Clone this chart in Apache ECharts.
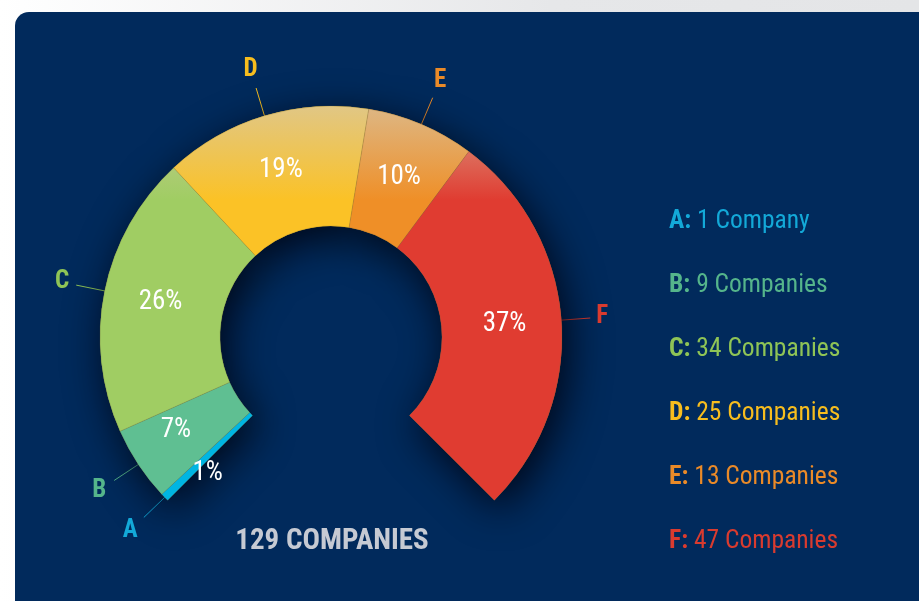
<!DOCTYPE html>
<html>
<head>
<meta charset="utf-8">
<script src="https://cdn.jsdelivr.net/npm/echarts@6/dist/echarts.min.js"></script>
<style>
  html, body { margin: 0; padding: 0; width: 919px; height: 601px; overflow: hidden;
    background: linear-gradient(90deg, #ffffff 0%, #e6e7e9 60%, #e4e5e7 100%); }
  #card { position: absolute; left: 15px; top: 12px; width: 940px; height: 620px;
    border-radius: 14px; background: #012a5c; }
  #chart { position: absolute; left: 0; top: 0; width: 919px; height: 601px; }
</style>
</head>
<body>
<div id="card"></div>
<div id="chart"></div>
<script>
"use strict";
// data
var names = ['A', 'B', 'C', 'D', 'E', 'F'];
var counts = [1, 9, 34, 25, 13, 47];
var pctLabels = ['1%', '7%', '26%', '19%', '10%', '37%'];
var totalLabel = '129 COMPANIES';

var colors = ['#00b5e2', '#5fbf92', '#a0cd63', '#fbc226', '#ef8f27', '#e03c31'];
var textColors = ['#13a9d8', '#55b58b', '#8fc456', '#f7bd1e', '#ea8a28', '#d93b2f'];
var font = '"Roboto Condensed", "Liberation Sans Narrow", Roboto, "Liberation Sans", sans-serif';

// 顶部的高光渐变
function mix(hex, t) {
	var r = parseInt(hex.substr(1, 2), 16), g = parseInt(hex.substr(3, 2), 16), b = parseInt(hex.substr(5, 2), 16);
	var base = [214, 200, 172];
	return 'rgb(' + Math.round(r + (base[0] - r) * t) + ',' + Math.round(g + (base[1] - g) * t) + ',' + Math.round(b + (base[2] - b) * t) + ')';
}
function grad(hex) {
	return {
		type: 'linear', x: 0, y: 100, x2: 0, y2: 200, global: true,
		colorStops: [
			{ offset: 0, color: mix(hex, 0.75) },
			{ offset: 1, color: hex }
		]
	};
}

var outerData = names.map(function(n, i) {
	return {
		name: n, value: counts[i],
		itemStyle: { color: colors[i] },
		label: { color: textColors[i] },
		labelLine: { lineStyle: { color: textColors[i] } }
	};
});
var innerData = names.map(function(n, i) {
	return { name: n, value: counts[i], itemStyle: { color: grad(colors[i]) } };
});

var rich = {};
names.forEach(function(n, i) {
	rich['k' + i] = { color: textColors[i], fontWeight: 'bold', fontSize: 25.5, fontFamily: font };
	rich['v' + i] = { color: textColors[i], fontSize: 25.5, fontFamily: font };
});

var center = [331, 337];
var radius = [111, 231];

// 把字母标签推到引导线的末端之外
function placeLabel(params) {
	var pts = params.labelLinePoints;
	if (!pts) return {};
	var p1 = pts[0], p2 = pts[1];
	var dx = p2[0] - p1[0], dy = p2[1] - p1[1];
	var len = Math.sqrt(dx * dx + dy * dy) || 1;
	dx /= len; dy /= len;
	var r = params.labelRect;
	var off = 5 + Math.abs(dx) * r.width / 2 + Math.abs(dy) * r.height / 2;
	return {
		x: p2[0] + dx * off, y: p2[1] + dy * off,
		align: 'center', verticalAlign: 'middle',
		labelLinePoints: [p1, p2, p2]
	};
}

// 1% 太窄了，往下挪一点，和参考图一样
function placeInner(params) {
	var r = params.labelRect;
	if (params.dataIndex === 0) {
		return { x: r.x + r.width / 2 + 2, y: r.y + r.height / 2 + 15, align: 'center', verticalAlign: 'middle' };
	}
	if (params.dataIndex === 1) {
		return { x: r.x + r.width / 2 - 10, y: r.y + r.height / 2 - 3, align: 'center', verticalAlign: 'middle' };
	}
	return {};
}

var option = {
	backgroundColor: 'transparent',
	animation: false,
	title: {
		text: totalLabel, left: 327, top: 522, textAlign: 'center',
		textStyle: { color: '#c6cad3', fontSize: 29, fontWeight: 'bold', fontFamily: font }
	},
	legend: {
		orient: 'vertical', left: 659, top: 204, itemGap: 38,
		itemWidth: 0, itemHeight: 0, icon: 'rect',
		selectedMode: false,
		data: names,
		formatter: function(name) {
			var i = names.indexOf(name);
			return '{k' + i + '|' + name + ':} {v' + i + '|' + counts[i] + ' ' + (counts[i] === 1 ? 'Company' : 'Companies') + '}';
		},
		textStyle: { fontSize: 25.5, fontFamily: font, rich: rich }
	},
	series: [{
		// 底层：阴影和外部字母标签
		type: 'pie', center: center, radius: radius,
		startAngle: 225, endAngle: -45, clockwise: true,
		z: 1,
		itemStyle: { shadowBlur: 40, shadowColor: 'rgba(0,0,10,0.85)', shadowOffsetX: 6, shadowOffsetY: 10 },
		label: { show: true, position: 'outside', formatter: '{b}', fontSize: 25, fontWeight: 'bold', fontFamily: font },
		labelLine: { show: true, length: 29, length2: 0, smooth: false, lineStyle: { width: 1 } },
		labelLayout: placeLabel,
		emphasis: { disabled: true },
		data: outerData
	}, {
		type: 'pie', center: center, radius: radius,
		startAngle: 225, endAngle: -45, clockwise: true,
		z: 2,
		avoidLabelOverlap: false,
		itemStyle: { borderWidth: 0.5, borderColor: 'rgba(120,110,60,0.5)' },
		label: {
			show: true, position: 'inside', color: '#ffffff', fontSize: 27, fontFamily: font,
			formatter: function(p) { return pctLabels[p.dataIndex]; }
		},
		labelLine: { show: false },
		labelLayout: placeInner,
		emphasis: { disabled: true },
		data: innerData
	}]
};

var chart = echarts.init(document.getElementById('chart'));
chart.setOption(option);
</script>
</body>
</html>
